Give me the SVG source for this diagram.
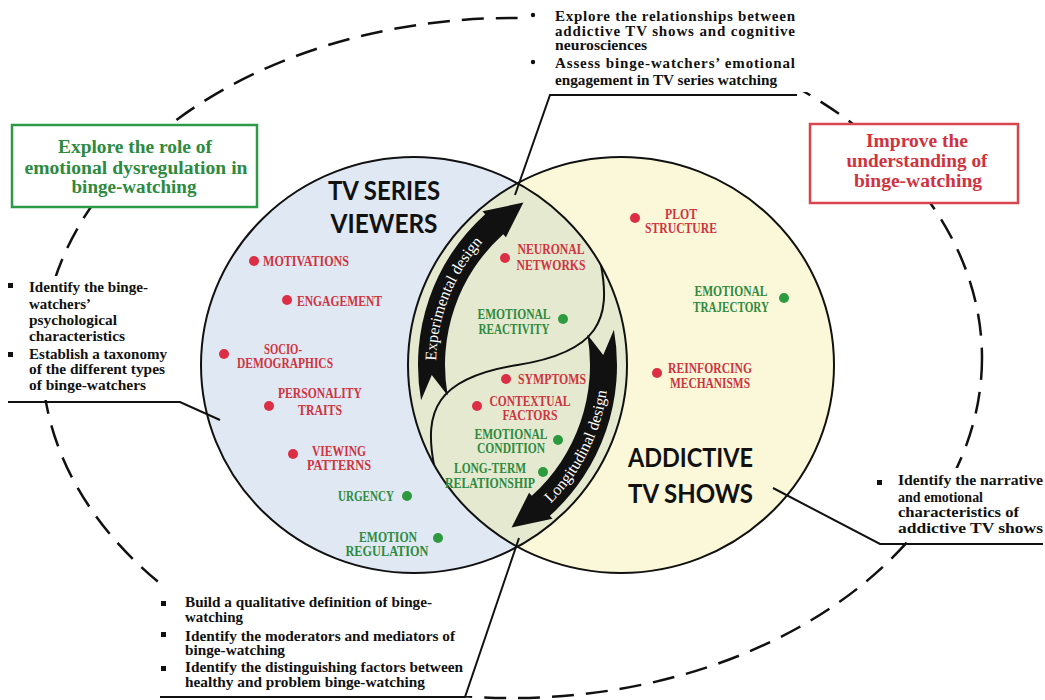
<svg xmlns="http://www.w3.org/2000/svg" width="1045" height="700" viewBox="0 0 1045 700">
<defs>
<style>
.t{font-family:"Liberation Serif","Times New Roman",serif;font-weight:bold;font-size:15px;fill:#111}
.bx{font-family:"Liberation Serif","Times New Roman",serif;font-weight:bold;font-size:18px;text-anchor:middle}
.lb{font-family:"Liberation Serif","Times New Roman",serif;font-weight:bold;font-size:14px}
.m{text-anchor:middle}
.r{fill:#cf3340}
.g{fill:#2d8a3e}
.dr{fill:#dc2f45}
.dg{fill:#2e9a40}
.tt{font-family:Lato,"Liberation Sans",sans-serif;font-weight:bold;font-size:27px;fill:#111}
.at{font-family:"Liberation Serif","Times New Roman",serif;font-size:16px;fill:#fff}
.ln{fill:none;stroke:#111;stroke-width:2}
.sq{fill:#111}
</style>
<path id="pe" d="M 436.70 381.12 A 185 185 0 0 1 497.21 227.52"/>
<path id="pl" d="M 531.05 520.34 A 194.5 194.5 0 0 0 608.5 365"/>
</defs>
<rect width="1045" height="700" fill="#fff"/>
<g id="outer-ellipse">
<ellipse cx="512" cy="358" rx="470" ry="340" fill="none" stroke="#111" stroke-width="2.5" stroke-dasharray="22 12"/>
</g>
<g id="text-backgrounds" fill="#fff">
<rect x="520" y="0" width="290" height="92"/>
<rect x="0" y="276" width="195" height="124"/>
<rect x="868" y="468" width="177" height="74"/>
<rect x="148" y="588" width="325" height="108"/>
</g>
<g id="circle-fills">
<ellipse cx="414" cy="365" rx="213" ry="208" fill="#dfe8f3"/>
<ellipse cx="621" cy="365" rx="213" ry="208" fill="#fbf8d9"/>
<path d="M 517.5 183.2 A 213 208 0 0 1 517.5 546.8 A 213 208 0 0 1 517.5 183.2 Z" fill="#e5e9cf"/>
</g>
<g id="circle-outlines" class="ln">
<ellipse cx="414" cy="365" rx="213" ry="208"/>
<ellipse cx="621" cy="365" rx="213" ry="208"/>
<path d="M 601 265 C 611 318 600 352 517.5 365 C 435 378 424 412 434 465"/>
</g>
<g id="experimental-design">
<path fill="#111" d="M 421.08 400.25 A 203 203 0 0 1 485.17 214.14 L 482.49 211.17 L 523.40 202.57 L 505.91 237.18 L 503.23 234.21 A 176 176 0 0 0 447.67 395.56 L 431.76 374.92 Z"/>
<text class="at"><textPath href="#pe" startOffset="50%" text-anchor="middle" textLength="130" lengthAdjust="spacingAndGlyphs">Experimental design</textPath></text>
</g>
<g id="longitudinal-design">
<path fill="#111" d="M 613.92 329.75 A 203 203 0 0 1 549.83 515.86 L 552.51 518.83 L 511.60 527.43 L 529.09 492.82 L 531.77 495.79 A 176 176 0 0 0 587.33 334.44 L 603.24 355.08 Z"/>
<text class="at"><textPath href="#pl" startOffset="50%" text-anchor="middle" textLength="128" lengthAdjust="spacingAndGlyphs">Longitudinal design</textPath></text>
</g>
<g id="title-viewers">
<text class="tt m" x="384" y="200" textLength="112" lengthAdjust="spacingAndGlyphs">TV SERIES</text>
<text class="tt m" x="384" y="233" textLength="107" lengthAdjust="spacingAndGlyphs">VIEWERS</text>
</g>
<g id="title-shows">
<text class="tt" x="628" y="467" textLength="125" lengthAdjust="spacingAndGlyphs">ADDICTIVE</text>
<text class="tt" x="628" y="503" textLength="125" lengthAdjust="spacingAndGlyphs">TV SHOWS</text>
</g>
<g id="n-motivations"><circle class="dr" cx="254" cy="261" r="5"/><text class="lb r" x="263" y="266" textLength="86" lengthAdjust="spacingAndGlyphs">MOTIVATIONS</text></g>
<g id="n-engagement"><circle class="dr" cx="287" cy="300" r="5"/><text class="lb r" x="297" y="306" textLength="85" lengthAdjust="spacingAndGlyphs">ENGAGEMENT</text></g>
<g id="n-socio"><circle class="dr" cx="224" cy="354" r="5"/><text class="lb r m" x="283" y="354" textLength="38" lengthAdjust="spacingAndGlyphs">SOCIO-</text><text class="lb r m" x="285" y="368" textLength="96" lengthAdjust="spacingAndGlyphs">DEMOGRAPHICS</text></g>
<g id="n-personality"><circle class="dr" cx="269" cy="406" r="5"/><text class="lb r m" x="320" y="398" textLength="84" lengthAdjust="spacingAndGlyphs">PERSONALITY</text><text class="lb r m" x="320" y="415" textLength="44" lengthAdjust="spacingAndGlyphs">TRAITS</text></g>
<g id="n-viewing"><circle class="dr" cx="293" cy="454" r="5"/><text class="lb r m" x="339" y="456" textLength="54" lengthAdjust="spacingAndGlyphs">VIEWING</text><text class="lb r m" x="339" y="470" textLength="64" lengthAdjust="spacingAndGlyphs">PATTERNS</text></g>
<g id="n-urgency"><circle class="dg" cx="407" cy="496" r="5"/><text class="lb g" x="338" y="501" textLength="56" lengthAdjust="spacingAndGlyphs">URGENCY</text></g>
<g id="n-emotion-regulation"><circle class="dg" cx="438" cy="538" r="5"/><text class="lb g m" x="388" y="542" textLength="58" lengthAdjust="spacingAndGlyphs">EMOTION</text><text class="lb g m" x="387" y="556" textLength="83" lengthAdjust="spacingAndGlyphs">REGULATION</text></g>
<g id="n-neuronal"><circle class="dr" cx="505" cy="258" r="5"/><text class="lb r m" x="551" y="254" textLength="67" lengthAdjust="spacingAndGlyphs">NEURONAL</text><text class="lb r m" x="551" y="270" textLength="69" lengthAdjust="spacingAndGlyphs">NETWORKS</text></g>
<g id="n-reactivity"><circle class="dg" cx="563" cy="319" r="5"/><text class="lb g m" x="514" y="319" textLength="73" lengthAdjust="spacingAndGlyphs">EMOTIONAL</text><text class="lb g m" x="514" y="334" textLength="71" lengthAdjust="spacingAndGlyphs">REACTIVITY</text></g>
<g id="n-symptoms"><circle class="dr" cx="506" cy="379" r="5"/><text class="lb r" x="518" y="384" textLength="68" lengthAdjust="spacingAndGlyphs">SYMPTOMS</text></g>
<g id="n-contextual"><circle class="dr" cx="477" cy="406" r="5"/><text class="lb r m" x="530" y="406" textLength="81" lengthAdjust="spacingAndGlyphs">CONTEXTUAL</text><text class="lb r m" x="530" y="420" textLength="55" lengthAdjust="spacingAndGlyphs">FACTORS</text></g>
<g id="n-condition"><circle class="dg" cx="558" cy="440" r="5"/><text class="lb g m" x="511" y="439" textLength="73" lengthAdjust="spacingAndGlyphs">EMOTIONAL</text><text class="lb g m" x="511" y="453" textLength="68" lengthAdjust="spacingAndGlyphs">CONDITION</text></g>
<g id="n-longterm"><circle class="dg" cx="543" cy="472" r="5"/><text class="lb g m" x="490" y="473" textLength="72" lengthAdjust="spacingAndGlyphs">LONG-TERM</text><text class="lb g m" x="490" y="488" textLength="90" lengthAdjust="spacingAndGlyphs">RELATIONSHIP</text></g>
<g id="n-plot"><circle class="dr" cx="635" cy="218" r="5"/><text class="lb r m" x="681" y="219" textLength="32" lengthAdjust="spacingAndGlyphs">PLOT</text><text class="lb r m" x="681" y="233" textLength="72" lengthAdjust="spacingAndGlyphs">STRUCTURE</text></g>
<g id="n-trajectory"><circle class="dg" cx="784" cy="298" r="5"/><text class="lb g m" x="731" y="296" textLength="73" lengthAdjust="spacingAndGlyphs">EMOTIONAL</text><text class="lb g m" x="731" y="312" textLength="76" lengthAdjust="spacingAndGlyphs">TRAJECTORY</text></g>
<g id="n-reinforcing"><circle class="dr" cx="657" cy="373" r="5"/><text class="lb r m" x="710" y="373" textLength="84" lengthAdjust="spacingAndGlyphs">REINFORCING</text><text class="lb r m" x="710" y="388" textLength="80" lengthAdjust="spacingAndGlyphs">MECHANISMS</text></g>
<g id="goal-left">
<rect x="12" y="125" width="245" height="82" fill="#fff" stroke="#2e9a47" stroke-width="2.5"/>
<text class="bx g" x="135" y="153" textLength="154" lengthAdjust="spacingAndGlyphs">Explore the role of</text>
<text class="bx g" x="136" y="174" textLength="223" lengthAdjust="spacingAndGlyphs">emotional dysregulation in</text>
<text class="bx g" x="134" y="193" textLength="125" lengthAdjust="spacingAndGlyphs">binge-watching</text>
</g>
<g id="goal-right">
<rect x="810" y="124" width="208" height="79" fill="#fff" stroke="#d9454f" stroke-width="2.5"/>
<text class="bx r" x="917" y="147" textLength="102" lengthAdjust="spacingAndGlyphs">Improve the</text>
<text class="bx r" x="917" y="167" textLength="141" lengthAdjust="spacingAndGlyphs">understanding of</text>
<text class="bx r" x="918" y="187" textLength="128" lengthAdjust="spacingAndGlyphs">binge-watching</text>
</g>
<g id="connectors" class="ln">
<path d="M 515 195 L 550 95 L 797 95"/>
<path d="M 8 402 L 180 402 L 220 420"/>
<path d="M 773 488 L 880 544 L 1043 544"/>
<path d="M 519 538 L 465 697 L 160 697"/>
</g>
<g id="aims-top">
<circle class="sq" cx="533" cy="15" r="2.2"/>
<circle class="sq" cx="533" cy="62" r="2.2"/>
<text class="t" x="555" y="21" textLength="240" lengthAdjust="spacing">Explore the relationships between</text>
<text class="t" x="555" y="35.5" textLength="240" lengthAdjust="spacing">addictive TV shows and cognitive</text>
<text class="t" x="555" y="50" textLength="92" lengthAdjust="spacingAndGlyphs">neurosciences</text>
<text class="t" x="555" y="68" textLength="240" lengthAdjust="spacing">Assess binge-watchers’ emotional</text>
<text class="t" x="555" y="85" textLength="222" lengthAdjust="spacingAndGlyphs">engagement in TV series watching</text>
</g>
<g id="aims-left">
<rect class="sq" x="8" y="283" width="5" height="5"/>
<rect class="sq" x="8" y="352" width="5" height="5"/>
<text class="t" x="29" y="292" textLength="119" lengthAdjust="spacingAndGlyphs">Identify the binge-</text>
<text class="t" x="29" y="309" textLength="62" lengthAdjust="spacingAndGlyphs">watchers’</text>
<text class="t" x="29" y="325" textLength="88" lengthAdjust="spacingAndGlyphs">psychological</text>
<text class="t" x="29" y="341" textLength="96" lengthAdjust="spacingAndGlyphs">characteristics</text>
<text class="t" x="29" y="359" textLength="138" lengthAdjust="spacingAndGlyphs">Establish a taxonomy</text>
<text class="t" x="29" y="374" textLength="136" lengthAdjust="spacingAndGlyphs">of the different types</text>
<text class="t" x="29" y="390" textLength="117" lengthAdjust="spacingAndGlyphs">of binge-watchers</text>
</g>
<g id="aims-right">
<rect class="sq" x="877" y="480" width="5" height="5"/>
<text class="t" x="898" y="485" textLength="145" lengthAdjust="spacingAndGlyphs">Identify the narrative</text>
<text class="t" x="898" y="502" textLength="85" lengthAdjust="spacingAndGlyphs">and emotional</text>
<text class="t" x="898" y="517" textLength="121" lengthAdjust="spacingAndGlyphs">characteristics of</text>
<text class="t" x="898" y="533" textLength="145" lengthAdjust="spacingAndGlyphs">addictive TV shows</text>
</g>
<g id="aims-bottom">
<rect class="sq" x="161" y="601" width="5" height="5"/>
<rect class="sq" x="161" y="632" width="5" height="5"/>
<rect class="sq" x="161" y="666" width="5" height="5"/>
<text class="t" x="185" y="607" textLength="247" lengthAdjust="spacingAndGlyphs">Build a qualitative definition of binge-</text>
<text class="t" x="185" y="622" textLength="58" lengthAdjust="spacingAndGlyphs">watching</text>
<text class="t" x="185" y="641" textLength="270" lengthAdjust="spacingAndGlyphs">Identify the moderators and mediators of</text>
<text class="t" x="185" y="655" textLength="100" lengthAdjust="spacingAndGlyphs">binge-watching</text>
<text class="t" x="185" y="672" textLength="278" lengthAdjust="spacingAndGlyphs">Identify the distinguishing factors between</text>
<text class="t" x="185" y="687" textLength="240" lengthAdjust="spacingAndGlyphs">healthy and problem binge-watching</text>
</g>
</svg>
